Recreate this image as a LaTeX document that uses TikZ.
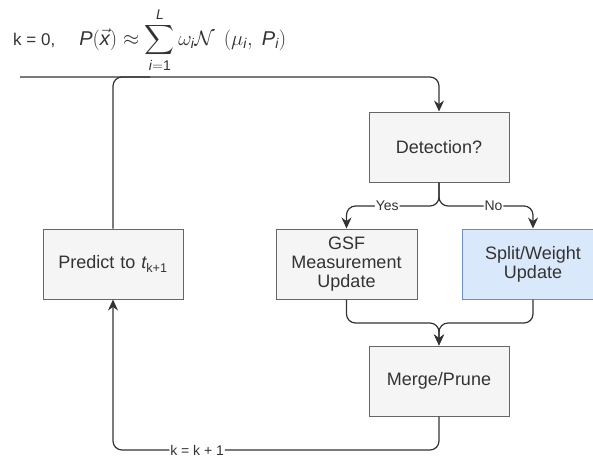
\documentclass[tikz,border=0pt]{standalone}
\usepackage{amsmath}
\usepackage{fontspec}
\setmainfont{Liberation Sans}
\usetikzlibrary{arrows.meta}
\definecolor{boxfill}{HTML}{F5F5F5}
\definecolor{boxline}{HTML}{666666}
\definecolor{bluefill}{HTML}{DAE8FC}
\definecolor{blueline}{HTML}{6C8EBF}
\definecolor{txt}{HTML}{333333}
\tikzset{
  stepbox/.style={draw=boxline, fill=boxfill, line width=1pt, minimum width=140pt, minimum height=70pt,
    text width=132pt, align=center, inner sep=0pt, text=txt, font=\fontsize{18}{21}\selectfont},
  bluebox/.style={stepbox, draw=blueline, fill=bluefill, minimum width=141pt},
  conn/.style={draw=txt, line width=1.2pt, rounded corners=9pt},
  arr/.style={conn, -{Stealth[length=11pt,width=10pt]}},
  lbl/.style={fill=white, inner sep=1pt, text=txt, font=\fontsize{14}{16}\selectfont},
}
\begin{document}
\begin{tikzpicture}[x=1pt,y=-1pt]
\useasboundingbox (0,0) rectangle (593,461);
\node[text=txt, anchor=west, font=\fontsize{17}{20}\selectfont, inner sep=0pt] (form) at (13,40)
  {k = 0,\hspace{24pt}{\fontsize{20}{24}\selectfont$\textit{P}(\vec{\textit{x}}) \approx \displaystyle\sum_{\textit{i}=\text{1}}^{\textit{L}} \omega_{\textit{i}}\mathcal{N}\;\left(\mu_{\textit{i}},\;\textit{P}_{\textit{i}}\right)$}};
\node[stepbox] (det) at (439,147) {Detection?};
\node[stepbox, minimum width=141pt] (gsf) at (346.5,264) {GSF\\[-2pt] Measurement\\[-2pt] Update};
\node[bluebox] (split) at (533,264) {Split/Weight\\[-2pt] Update};
\node[stepbox] (merge) at (439,381) {Merge/Prune};
\node[stepbox] (pred) at (113,264) {Predict to $\textit{t}_{\text{k+1}}$};
\coordinate (start) at (20,77);
\coordinate (join) at (150,77);
\coordinate (bj) at (439,206);
\coordinate (mj) at (439,323);
\coordinate (bot) at (439,450);
\draw[arr] (start) -| (det.north);
\draw[conn] (pred.north) |- (join);
\draw[arr] (det.south) -- (bj) -| node[lbl, pos=0.28] {Yes} (gsf.north);
\draw[arr] (det.south) -- (bj) -| node[lbl, pos=0.29] {No} (split.north);
\draw[arr] (gsf.south) |- (mj) -- (merge.north);
\draw[arr] (split.south) |- (mj) -- (merge.north);
\draw[arr] (merge.south) -- (bot) -| node[lbl, pos=0.371] {k = k + 1} (pred.south);
\end{tikzpicture}
\end{document}
